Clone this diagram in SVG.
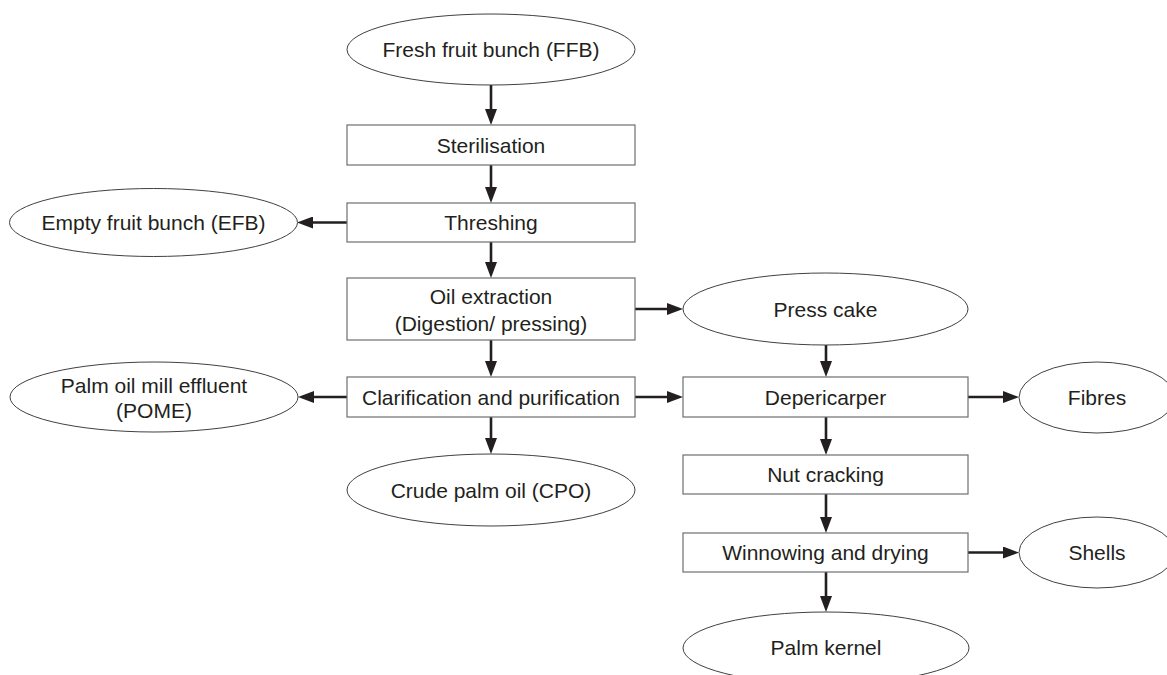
<svg xmlns="http://www.w3.org/2000/svg" width="1167" height="675" viewBox="0 0 1167 675">
<defs>
<style>
.box{fill:#fff;stroke:#6d6e70;stroke-width:1.2}
.ell{fill:#fff;stroke:#414042;stroke-width:1}
.t{font-family:"Liberation Sans",Arial,sans-serif;font-size:21px;fill:#231f20;text-anchor:middle}
.c{stroke:#231f20;stroke-width:2.6;fill:none;marker-end:url(#ah)}
</style>
<marker id="ah" markerUnits="userSpaceOnUse" markerWidth="16" markerHeight="12" refX="8" refY="6" orient="auto">
<path d="M0,0 L16,6 L0,12 z" fill="#231f20"/>
</marker>
</defs>
<rect width="1167" height="675" fill="#fff"/>
<g id="connectors">
<line class="c" x1="491" y1="85" x2="491" y2="117"/>
<line class="c" x1="491" y1="165" x2="491" y2="195"/>
<line class="c" x1="347" y1="222.5" x2="305" y2="222.5"/>
<line class="c" x1="491" y1="242" x2="491" y2="270"/>
<line class="c" x1="635" y1="309" x2="675" y2="309"/>
<line class="c" x1="491" y1="340" x2="491" y2="369"/>
<line class="c" x1="347" y1="397" x2="306" y2="397"/>
<line class="c" x1="635" y1="397" x2="675" y2="397"/>
<line class="c" x1="491" y1="417" x2="491" y2="446"/>
<line class="c" x1="826" y1="345" x2="826" y2="369"/>
<line class="c" x1="968" y1="397" x2="1011" y2="397"/>
<line class="c" x1="826" y1="417" x2="826" y2="447"/>
<line class="c" x1="826" y1="494" x2="826" y2="525"/>
<line class="c" x1="968" y1="552.5" x2="1011" y2="552.5"/>
<line class="c" x1="826" y1="572" x2="826" y2="604"/>
</g>
<g id="ffb"><ellipse class="ell" cx="491" cy="49.5" rx="144" ry="35.5"/><text class="t" x="491" y="57">Fresh fruit bunch (FFB)</text></g>
<g id="sterilisation"><rect class="box" x="347" y="125" width="288" height="40"/><text class="t" x="491" y="152.5">Sterilisation</text></g>
<g id="threshing"><rect class="box" x="347" y="203" width="288" height="39"/><text class="t" x="491" y="230">Threshing</text></g>
<g id="efb"><ellipse class="ell" cx="153.5" cy="222.5" rx="144" ry="34"/><text class="t" x="153.5" y="230">Empty fruit bunch (EFB)</text></g>
<g id="oil-extraction"><rect class="box" x="347" y="278" width="288" height="62"/><text class="t" x="491" y="304">Oil extraction</text><text class="t" x="491" y="331">(Digestion/ pressing)</text></g>
<g id="press-cake"><ellipse class="ell" cx="825.5" cy="309" rx="142.5" ry="36"/><text class="t" x="825.5" y="316.5">Press cake</text></g>
<g id="clarification"><rect class="box" x="347" y="377" width="288" height="40"/><text class="t" x="491" y="404.5">Clarification and purification</text></g>
<g id="pome"><ellipse class="ell" cx="154" cy="397" rx="144" ry="35"/><text class="t" x="154" y="392.5">Palm oil mill effluent</text><text class="t" x="154" y="418">(POME)</text></g>
<g id="cpo"><ellipse class="ell" cx="491" cy="490" rx="144" ry="36"/><text class="t" x="491" y="498">Crude palm oil (CPO)</text></g>
<g id="depericarper"><rect class="box" x="683" y="377" width="285" height="40"/><text class="t" x="825.5" y="404.5">Depericarper</text></g>
<g id="fibres"><ellipse class="ell" cx="1097" cy="397.5" rx="78" ry="35.5"/><text class="t" x="1097" y="404.5">Fibres</text></g>
<g id="nut-cracking"><rect class="box" x="683" y="455" width="285" height="39"/><text class="t" x="825.5" y="482">Nut cracking</text></g>
<g id="winnowing"><rect class="box" x="683" y="533" width="285" height="39"/><text class="t" x="825.5" y="560">Winnowing and drying</text></g>
<g id="shells"><ellipse class="ell" cx="1097" cy="552.5" rx="78" ry="35.5"/><text class="t" x="1097" y="560">Shells</text></g>
<g id="palm-kernel"><ellipse class="ell" cx="826" cy="648" rx="143" ry="36"/><text class="t" x="826" y="655">Palm kernel</text></g>
</svg>
